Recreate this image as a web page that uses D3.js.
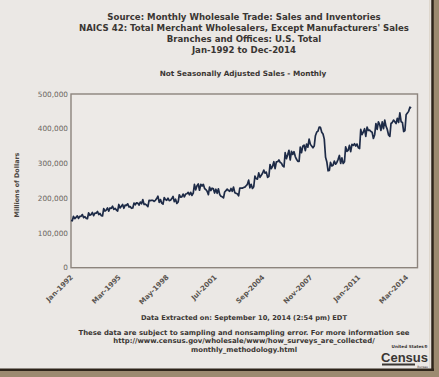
<!DOCTYPE html>
<html>
<head>
<meta charset="utf-8">
<script src="https://cdn.jsdelivr.net/npm/d3@7"></script>
<style>
  body { margin: 0; background: #ebe8e5; }
  svg { display: block; }
  text { font-family: "DejaVu Sans", Verdana, sans-serif; }
</style>
</head>
<body>
<div id="chart"></div>
<script>
// Monthly sales, thousands of millions of dollars, Jan-1992 onward.
var s1992 = [136, 135, 148, 141, 145, 149, 142, 148, 148, 153, 144, 147];
var s1993 = [142, 141, 158, 151, 153, 159, 150, 157, 157, 162, 153, 156];
var s1994 = [150, 149, 170, 163, 166, 172, 163, 172, 171, 177, 168, 171];
var s1995 = [166, 163, 182, 172, 177, 182, 171, 180, 179, 184, 175, 176];
var s1996 = [171, 172, 186, 181, 187, 186, 180, 189, 184, 196, 182, 183];
var s1997 = [180, 176, 194, 193, 194, 194, 191, 194, 199, 206, 188, 196];
var s1998 = [186, 183, 202, 196, 194, 200, 193, 194, 199, 205, 190, 197];
var s1999 = [185, 189, 210, 203, 204, 212, 204, 212, 213, 217, 210, 217];
var s2000 = [208, 215, 240, 224, 236, 241, 223, 240, 235, 240, 228, 225];
var s2001 = [220, 210, 232, 222, 229, 227, 215, 226, 214, 227, 211, 206];
var s2002 = [204, 201, 218, 222, 226, 222, 220, 228, 220, 232, 216, 214];
var s2003 = [213, 207, 229, 229, 229, 231, 232, 236, 240, 252, 230, 240];
var s2004 = [228, 233, 264, 256, 255, 273, 260, 266, 272, 281, 272, 275];
var s2005 = [260, 263, 297, 285, 292, 305, 285, 305, 305, 310, 303, 301];
var s2006 = [293, 290, 331, 314, 325, 338, 310, 335, 326, 334, 320, 312];
var s2007 = [306, 306, 347, 331, 350, 353, 337, 356, 347, 370, 355, 350];
var s2008 = [345, 350, 380, 390, 393, 405, 404, 390, 385, 370, 318, 305];
var s2009 = [279, 280, 303, 293, 295, 307, 298, 303, 312, 323, 300, 316];
var s2010 = [300, 305, 348, 335, 338, 352, 334, 355, 352, 357, 350, 356];
var s2011 = [345, 343, 398, 383, 390, 400, 378, 405, 395, 396, 392, 390];
var s2012 = [372, 383, 415, 398, 420, 412, 395, 420, 400, 425, 407, 398];
var s2013 = [382, 378, 415, 418, 425, 420, 415, 430, 418, 446, 420, 418];
var s2014 = [392, 395, 440, 445, 450, 462, 460];
var firstYear = 1992;
var yearlySeries = [s1992, s1993, s1994, s1995, s1996, s1997, s1998, s1999, s2000, s2001, s2002, s2003,
  s2004, s2005, s2006, s2007, s2008, s2009, s2010, s2011, s2012, s2013, s2014];

var xTickLabels = ["Jan-1992", "Mar-1995", "May-1998", "Jul-2001", "Sep-2004", "Nov-2007", "Jan-2011", "Mar-2014"];
var yTicks = [0, 100000, 200000, 300000, 400000, 500000];

var titleLines = [
  "Source: Monthly Wholesale Trade: Sales and Inventories",
  "NAICS 42: Total Merchant Wholesalers, Except Manufacturers' Sales",
  "Branches and Offices: U.S. Total",
  "Jan-1992 to Dec-2014"
];
var subtitle = "Not Seasonally Adjusted Sales - Monthly";
var yTitle = "Millions of Dollars";
var extracted = "Data Extracted on: September 10, 2014 (2:54 pm) EDT";
var noteLines = [
  "These data are subject to sampling and nonsampling error. For more information see",
  "http://www.census.gov/wholesale/www/how_surveys_are_collected/",
  "monthly_methodology.html"
];

// Flatten the yearly arrays into dated points.
var data = [];
yearlySeries.forEach(function(arr, yi) {
  arr.forEach(function(v, m) {
    data.push({ date: new Date(firstYear + yi, m, 1), value: v * 1000 });
  });
});

var W = 439, H = 377;
var plot = { left: 71, right: 417.5, top: 94, bottom: 267.7 };

var svg = d3.select("#chart").append("svg")
  .attr("width", W)
  .attr("height", H);

svg.append("rect").attr("width", W).attr("height", H).attr("fill", "#ebe8e5");

var parseTick = d3.timeParse("%b-%Y");
var xScale = d3.scaleTime()
  .domain([new Date(1992, 0, 1), new Date(2014, 11, 1)])
  .range([plot.left, plot.right]);
var yScale = d3.scaleLinear()
  .domain([0, 500000])
  .range([plot.bottom, plot.top]);

// Titles
svg.selectAll(".title").data(titleLines).enter().append("text")
  .attr("class", "title")
  .attr("x", 244)
  .attr("y", function(d, i) { return 20 + i * 11; })
  .attr("text-anchor", "middle")
  .style("font-size", "8.6px")
  .style("font-weight", "bold")
  .attr("fill", "#3a3633")
  .text(function(d) { return d; });

svg.append("text")
  .attr("x", 243).attr("y", 76)
  .attr("text-anchor", "middle")
  .style("font-size", "7.3px")
  .style("font-weight", "bold")
  .attr("fill", "#3a3633")
  .text(subtitle);

// Y axis
var yAxis = svg.append("g")
  .attr("class", "y_axis")
  .attr("transform", "translate(" + (plot.left - 3) + ",0)")
  .call(d3.axisLeft(yScale).tickValues(yTicks).tickFormat(d3.format(",")).tickSize(0).tickPadding(0));
yAxis.select(".domain").remove();
yAxis.selectAll("text")
  .style("font-size", "7.3px")
  .attr("fill", "#6a6560")
  .attr("dy", "0.3em");

svg.append("text")
  .attr("transform", "translate(19," + 185 + ") rotate(-90)")
  .attr("text-anchor", "middle")
  .style("font-size", "6.4px")
  .style("font-weight", "bold")
  .attr("fill", "#4a4540")
  .text(yTitle);

// X axis with rotated labels
var xAxis = svg.append("g")
  .attr("class", "x_axis")
  .attr("transform", "translate(0," + plot.bottom + ")")
  .call(d3.axisBottom(xScale)
    .tickValues(xTickLabels.map(parseTick))
    .tickFormat(d3.timeFormat("%b-%Y"))
    .tickSize(0).tickPadding(0));
xAxis.select(".domain").remove();
xAxis.selectAll("text")
  .attr("text-anchor", "end")
  .attr("y", 0)
  .attr("dy", 0)
  .attr("transform", "translate(2,10) rotate(-45)")
  .style("font-size", "7px")
  .style("font-weight", "bold")
  .attr("fill", "#5a5550");

// Plot frame
svg.append("rect")
  .attr("x", plot.left).attr("y", plot.top)
  .attr("width", plot.right - plot.left)
  .attr("height", plot.bottom - plot.top)
  .attr("fill", "#edeae7")
  .attr("stroke", "#8c847d")
  .attr("stroke-width", 1.4);

// Line
var line = d3.line()
  .x(function(d) { return xScale(d.date); })
  .y(function(d) { return yScale(d.value); });

svg.append("path")
  .datum(data)
  .attr("fill", "none")
  .attr("stroke", "#1e2b47")
  .attr("stroke-width", 1.7)
  .attr("stroke-linejoin", "round")
  .attr("d", line);

// Footer
svg.append("text")
  .attr("x", 244).attr("y", 320)
  .attr("text-anchor", "middle")
  .style("font-size", "6.7px")
  .style("font-weight", "bold")
  .attr("fill", "#3a3633")
  .text(extracted);

svg.selectAll(".note").data(noteLines).enter().append("text")
  .attr("class", "note")
  .attr("x", 244)
  .attr("y", function(d, i) { return 335 + i * 8.4; })
  .attr("text-anchor", "middle")
  .style("font-size", "6.9px")
  .style("font-weight", "bold")
  .attr("fill", "#3a3633")
  .text(function(d) { return d; });

// Census logo
var logo = svg.append("g").attr("fill", "#3a3633");
logo.append("text").attr("x", 428).attr("y", 347.5).attr("text-anchor", "end")
  .style("font-size", "4.2px").style("font-weight", "bold").text("United States\u00AE");
logo.append("text").attr("x", 428).attr("y", 362).attr("text-anchor", "end")
  .style("font-family", "'Liberation Sans Narrow', 'Liberation Sans', sans-serif")
  .style("font-size", "13px").style("font-weight", "bold").text("Census");
logo.append("rect").attr("x", 382).attr("y", 363.5).attr("width", 33).attr("height", 2);
logo.append("text").attr("x", 428).attr("y", 368).attr("text-anchor", "end")
  .style("font-size", "3px").text("Bureau");

// Photo frame edges
svg.append("rect").attr("x", 433).attr("y", 0).attr("width", 6).attr("height", H).attr("fill", "#9c8a70");
svg.append("rect").attr("x", 0).attr("y", 371).attr("width", W).attr("height", 6).attr("fill", "#9c8a70");
svg.append("line").attr("x1", 432.5).attr("x2", 432.5).attr("y1", 0).attr("y2", 371)
  .attr("stroke", "#2e241a").attr("stroke-width", 2.5);
svg.append("line").attr("x1", 0).attr("x2", 434).attr("y1", 369.8).attr("y2", 369.8)
  .attr("stroke", "#2e241a").attr("stroke-width", 2.5);
svg.append("line").attr("x1", 429.8).attr("x2", 429.8).attr("y1", 0).attr("y2", 368)
  .attr("stroke", "#d9d0c3").attr("stroke-width", 1);
</script>
</body>
</html>
